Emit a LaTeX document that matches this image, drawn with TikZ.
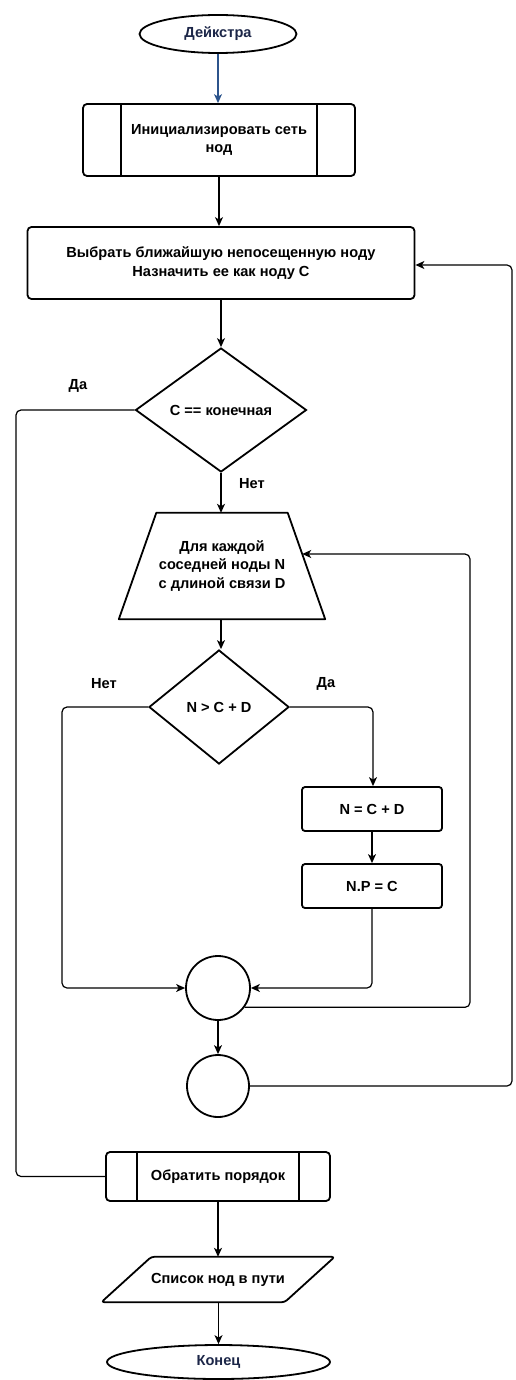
\documentclass[tikz,border=0pt]{standalone}
\usepackage{fontspec}
\setmainfont{Liberation Sans}
\usetikzlibrary{shapes.geometric,arrows.meta,calc}
\definecolor{navytext}{RGB}{28,38,72}
\definecolor{startblue}{RGB}{44,84,140}

\begin{document}
\begin{tikzpicture}[x=1pt,y=-1pt,
  font=\fontsize{14.6}{18.5}\selectfont\bfseries,
  shapeline/.style={line width=1.8pt, draw=black},
  flow/.style={line width=1.2pt, rounded corners=5pt,
    -{Stealth[length=9pt,width=8pt,inset=2.5pt]}},
  link/.style={line width=1.2pt, rounded corners=5pt},
  term/.style={ellipse, shapeline, inner sep=0pt, text=navytext},
  proc/.style={rectangle, shapeline, rounded corners=4pt, inner sep=0pt, align=center},
  decide/.style={diamond, shapeline, inner sep=0pt, aspect=1},
  junction/.style={circle, shapeline, inner sep=0pt},
  frame/.style={rectangle, inner sep=0pt, align=center},
  lbl/.style={inner sep=0pt}]

\useasboundingbox (0,0) rectangle (515,1380);

% --- blocks ---------------------------------------------------------
\node[term, minimum width=157pt, minimum height=38pt] (start) at (218,34) {Дейкстра};
\node[proc, minimum width=272pt, minimum height=72pt] (init) at (219,140)
  {Инициализировать сеть\\нод};
\node[proc, minimum width=387pt, minimum height=72pt] (sel) at (221,263)
  {Выбрать ближайшую непосещенную ноду\\Назначить ее как ноду C};
\node[decide, minimum width=171pt, minimum height=124pt] (d1) at (221,410) {C == конечная};
\node[frame, minimum width=206pt, minimum height=106pt] (trap) at (222,566)
  {Для каждой\\соседней ноды N\\с длиной связи D};
\node[decide, minimum width=140pt, minimum height=114pt] (d2) at (219,707) {N > C + D};
\node[proc, rounded corners=3pt, minimum width=140pt, minimum height=44pt] (ncd) at (372,809) {N = C + D};
\node[proc, rounded corners=3pt, minimum width=140pt, minimum height=44pt] (npc) at (372,886) {N.P = C};
\node[junction, minimum size=64pt] (c1) at (218,988) {};
\node[junction, minimum size=62pt] (c2) at (218,1086) {};
\node[proc, minimum width=224pt, minimum height=49pt] (rev) at (218,1176.5) {Обратить порядок};
\node[frame, minimum width=233pt, minimum height=45pt] (list) at (218,1279.5) {Список нод в пути};
\node[term, minimum width=223pt, minimum height=34pt] (end) at (218.5,1362) {Конец};

% loop header: trapezoid, wide at the bottom
\coordinate (trapTL) at ([xshift=37.5pt]trap.north west);
\coordinate (trapTR) at ([xshift=-37.5pt]trap.north east);
\draw[line width=1.8pt, line join=round]
  (trapTL) -- (trapTR) -- (trap.south east) -- (trap.south west) -- cycle;
% output: parallelogram leaning to the right
\draw[line width=1.8pt, line join=round, rounded corners=3pt]
  ([xshift=50pt]list.north west) -- (list.north east)
  -- ([xshift=-50pt]list.south east) -- (list.south west) -- cycle;

% side bars of the predefined-process boxes
\foreach \b/\d in {init/39pt, rev/32pt}{
  \draw[line width=1.8pt] ([xshift=\d]\b.north west) -- ([xshift=\d]\b.south west);
  \draw[line width=1.8pt] ([xshift=-\d]\b.north east) -- ([xshift=-\d]\b.south east);
}

% --- branch labels -----------------------------------------------------
\node[lbl] (yes1) at (78,386) {Да};
\node[lbl] (no1) at (252,484) {Нет};
\node[lbl] (no2) at (104,684) {Нет};
\node[lbl] (yes2) at (326,684) {Да};

% --- helper points for the loops -------------------------------------------
\coordinate (leftrail) at (16,410);
\coordinate (trapin) at ($(trapTR)!0.387!(trap.south east)$);
\coordinate (innerrail) at (470,554);
\coordinate (outerrail) at (512,265);
\coordinate (norail) at (62,707);
\coordinate (yesrail) at (373,707);

% --- connectors --------------------------------------------------------
\draw[flow, draw=startblue, -{Stealth[length=9pt,width=8pt,inset=2.5pt,color=startblue]}]
  (start.south) -- (start.south |- init.north);
\draw[flow] (init.south) -- (init.south |- sel.north);
\draw[flow] (sel.south -| d1.north) -- (d1.north);
\draw[link] (d1.west) -- (leftrail) |- (rev.west);
\draw[flow] (d1.south) -- (d1.south |- trap.north);
\draw[flow] (d1.south |- trap.south) -- (d2.north -| d1.south);
\draw[flow] (d2.west) -- (norail) |- (c1.west);
\draw[flow] (d2.east) -- (yesrail) -- (yesrail |- ncd.north);
\draw[flow] (ncd.south) -- (npc.north);
\draw[flow] (npc.south) |- (c1.east);
\draw[flow] (c1.-36) -| (innerrail) -- (innerrail -| trapin);
\draw[flow] (c1.south) -- (c2.north);
\draw[flow] (c2.east) -| (outerrail) -- (outerrail -| sel.east);
\draw[flow] (rev.south) -- (rev.south |- list.north);
\draw[flow] (list.south -| end.north) -- (end.north);

\end{tikzpicture}
\end{document}
